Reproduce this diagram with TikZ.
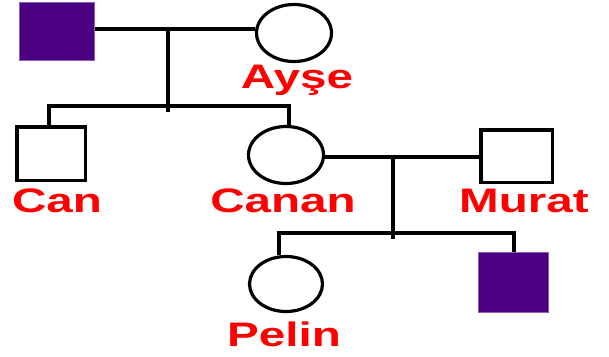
\documentclass[tikz,border=0pt]{standalone}
\usepackage{fontspec}
\setmainfont{Liberation Sans}
\usetikzlibrary{shapes.geometric}
\definecolor{affected}{HTML}{4B0082}
\definecolor{affectedrim}{HTML}{8A62B3}
\tikzset{
  line/.style={line width=3.2pt},
  male/.style={rectangle, draw=black, line width=3.5pt, fill=white, inner sep=0pt},
  female/.style={ellipse, draw=black, line width=3.2pt, fill=white, inner sep=0pt},
  malefilled/.style={rectangle, draw=affectedrim, line width=1.5pt, fill=affected, inner sep=0pt},
  personlabel/.style={anchor=base, text=red, inner sep=0pt, xscale=1.4,
    font=\fontsize{34}{40}\selectfont\bfseries},
}
\begin{document}
\begin{tikzpicture}[x=1pt, y=-1pt]
  \useasboundingbox[fill=white] (0,0) rectangle (609,356);

  % first generation
  \node[malefilled, minimum width=75pt, minimum height=58pt] (grandpa) at (57,31.5) {};
  \node[female, minimum width=75pt, minimum height=57pt] (ayse) at (294,33) {};
  \coordinate (m1) at (168,29);
  \coordinate (m1b) at (168,112);
  \draw[line] (grandpa.east |- m1) -- (ayse.west |- m1);
  \draw[line] (m1) -- (m1b);

  % second generation
  \node[male, minimum width=68.5pt, minimum height=53.5pt] (can) at (51,153.5) {};
  \node[female, minimum width=75pt, minimum height=57pt] (canan) at (286,155) {};
  \node[male, minimum width=71.5pt, minimum height=52.5pt] (murat) at (516.5,156) {};
  \coordinate (s1l) at (49,106);
  \coordinate (s1r) at (289,106);
  \draw[line] (s1l |- can.north) -- (s1l) -- (s1r) -- (s1r |- canan.north);

  \coordinate (m2) at (393,157);
  \coordinate (m2b) at (393,239);
  \draw[line] (canan.east |- m2) -- (murat.west |- m2);
  \draw[line] (m2) -- (m2b);

  % third generation
  \node[female, minimum width=73pt, minimum height=55pt] (pelin) at (286,284) {};
  \node[malefilled, minimum width=70pt, minimum height=60pt] (son) at (513.5,282.5) {};
  \coordinate (s2l) at (279,233);
  \coordinate (s2r) at (514,233);
  \draw[line] (s2l |- pelin.north) -- (s2l) -- (s2r) -- (s2r |- son.north);

  % names
  \node[personlabel] (ayselbl) at (297,88) {Ayşe};
  \node[personlabel] (canlbl) at (57,212) {Can};
  \node[personlabel] (cananlbl) at (283,212) {Canan};
  \node[personlabel] (muratlbl) at (524,212) {Murat};
  \node[personlabel] (pelinlbl) at (284,346) {Pelin};
\end{tikzpicture}
\end{document}
